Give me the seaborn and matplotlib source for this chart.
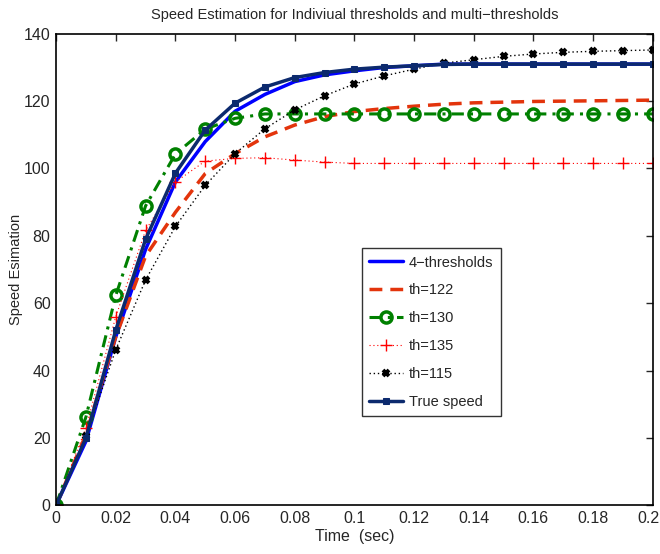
import numpy as np
import pandas as pd
import seaborn as sns
import matplotlib.pyplot as plt
import matplotlib.transforms as mtransforms

# time axis (sec)
time = [0, 0.01, 0.02, 0.03, 0.04, 0.05, 0.06, 0.07, 0.08, 0.09, 0.10,
        0.11, 0.12, 0.13, 0.14, 0.15, 0.16, 0.17, 0.18, 0.19, 0.20]

# speed estimates
four_thresholds = [0, 19, 50, 76, 96, 108, 117, 122, 125.8, 127.8, 129,
                   130, 130.5, 131, 131, 131, 131, 131, 131, 131, 131]
th_122 = [0, 21, 50, 74, 87, 98.5, 104.4, 109.4, 112.9, 115.4, 116.9,
          117.8, 118.5, 119.1, 119.5, 119.7, 119.9, 120, 120.1, 120.2, 120.3]
th_130 = [0, 26.2, 62.3, 88.9, 104.3, 111.7, 114.9, 116.2, 116.2, 116.2, 116.2,
          116.2, 116.2, 116.2, 116.2, 116.2, 116.2, 116.2, 116.2, 116.2, 116.2]
th_135 = [0, 23, 56, 81.6, 96, 102.2, 103, 103.2, 102.5, 101.9, 101.5,
          101.5, 101.5, 101.5, 101.5, 101.5, 101.5, 101.5, 101.5, 101.5, 101.5]
th_115 = [0, 20.6, 46.2, 66.9, 82.8, 95, 104.4, 111.8, 117.4, 121.6, 125.1,
          127.5, 129.5, 131.3, 132.3, 133.3, 134, 134.5, 134.8, 135, 135.2]
true_speed = [0, 20, 52, 79, 98.6, 111.4, 119.4, 124.2, 127, 128.5, 129.5,
              130.1, 130.5, 130.9, 131, 131, 131, 131, 131, 131, 131]

sns.set_style("white")
plt.rcParams['font.family'] = ['Liberation Sans Narrow', 'Liberation Sans', 'DejaVu Sans']

fig = plt.figure(figsize=(6.6, 5.54), dpi=100)
ax = fig.add_axes([0.085, 0.088, 0.904, 0.851])

sns.lineplot(x=time, y=four_thresholds, ax=ax, color='#0000ff', lw=2.5,
             label='4\u2212thresholds')
sns.lineplot(x=time, y=th_122, ax=ax, color='#e3340c', lw=2.5,
             label='th=122')
ax.lines[-1].set_dashes([3.7, 2.3])
sns.lineplot(x=time, y=th_130, ax=ax, color='#008000', lw=2.2,
             marker='o', markersize=8, markerfacecolor='none',
             markeredgewidth=2.5, markeredgecolor='#008000', label='th=130')
ax.lines[-1].set_dashes([4, 2, 1, 2])
sns.lineplot(x=time, y=th_135, ax=ax, color='#ff0000', lw=0.8,
             marker='+', markersize=9, markeredgewidth=1,
             markeredgecolor='#ff0000', label='th=135')
ax.lines[-1].set_dashes([1, 2.5])
sns.lineplot(x=time, y=th_115, ax=ax, color='black', lw=1.0,
             marker='x', markersize=5, markeredgewidth=2.8,
             markeredgecolor='black', label='th=115')
ax.lines[-1].set_dashes([1, 2])
sns.lineplot(x=time, y=true_speed, ax=ax, color='#0c2a6e', lw=2.5,
             marker='s', markersize=4, markeredgecolor='#0c2a6e', label='True speed')

ax.set_xlim(0, 0.2)
ax.set_ylim(0, 140)
ax.set_xticks(np.arange(0, 0.201, 0.02))
ax.set_xticklabels(['0', '0.02', '0.04', '0.06', '0.08', '0.1', '0.12',
                    '0.14', '0.16', '0.18', '0.2'])
ax.set_yticks(np.arange(0, 141, 20))
ax.tick_params(direction='in', length=5, width=1, top=True, right=True,
               labelsize=11.5, pad=4)
for side in ax.spines.values():
    side.set_color('black')
    side.set_linewidth(1.2)

# nudge the last x label so it stays inside the canvas
last = ax.get_xticklabels()[-1]
last.set_transform(last.get_transform() +
                   mtransforms.ScaledTranslation(-4 / 100, 0, fig.dpi_scale_trans))

ax.set_title('Speed Estimation for Indiviual thresholds and multi\u2212thresholds',
             fontsize=10.5, pad=11)
ax.set_xlabel('Time  (sec)', fontsize=11.5, labelpad=2)
ax.set_ylabel('Speed Esimation', fontsize=10.5)
ax.yaxis.set_label_coords(-0.055, 0.5)

leg = ax.legend(loc='lower left', bbox_to_anchor=(0.513, 0.189),
                borderaxespad=0, fontsize=10.5, frameon=True, fancybox=False,
                handlelength=2.3, labelspacing=0.95, borderpad=0.5,
                handletextpad=0.4)
leg.get_frame().set_edgecolor('black')
leg.get_frame().set_linewidth(1)

fig.savefig('out.png', dpi=100)
